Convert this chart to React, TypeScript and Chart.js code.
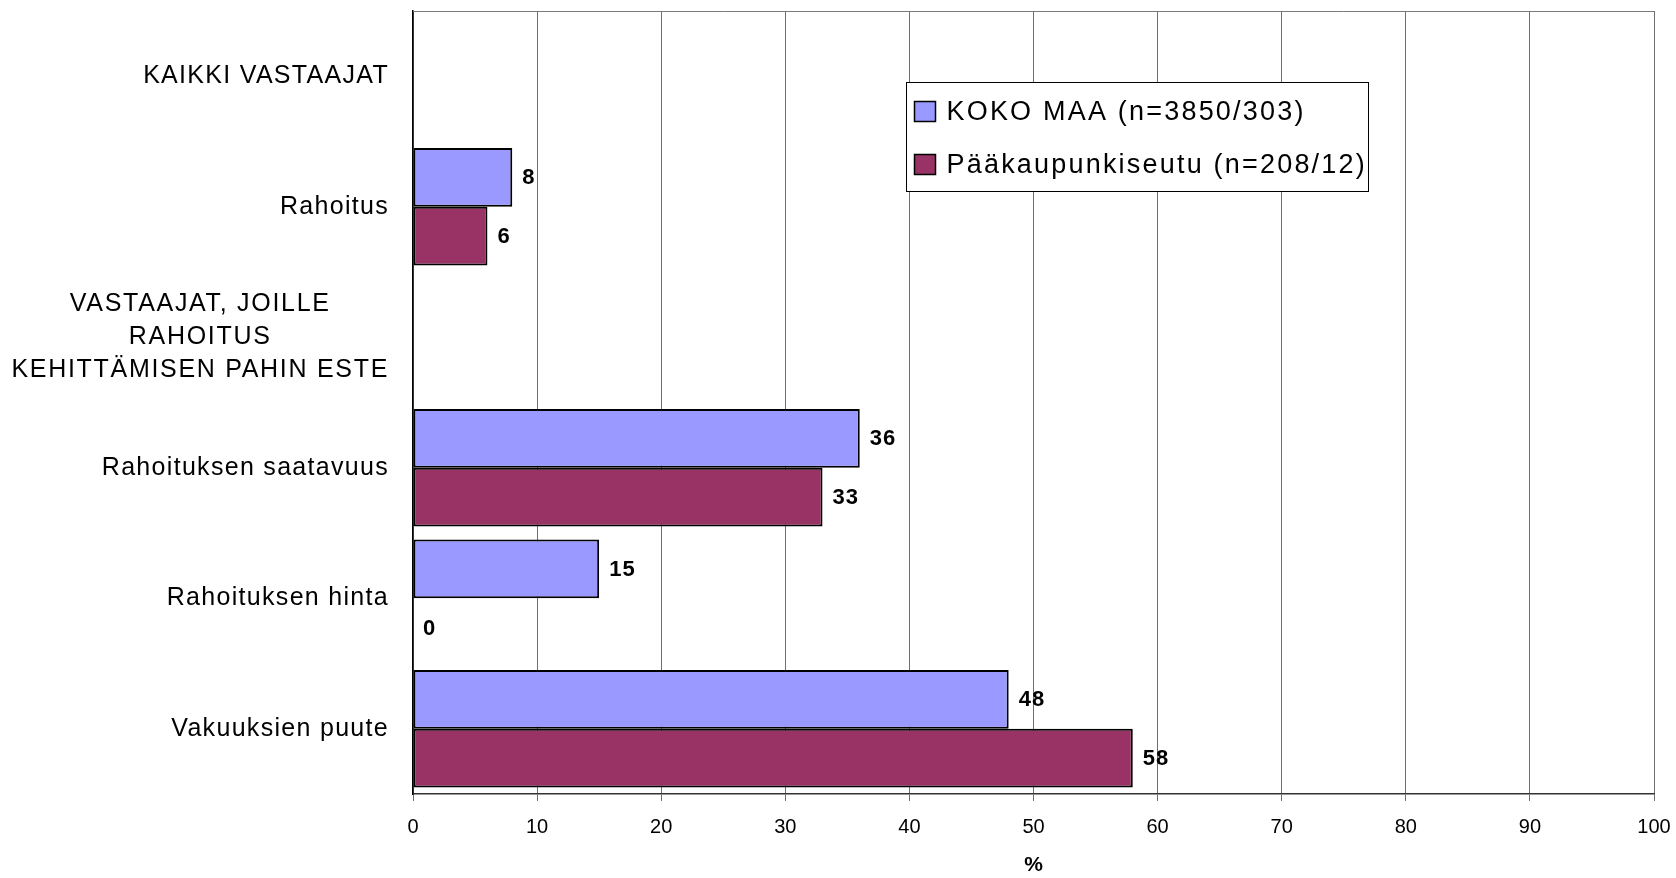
import React, { useEffect, useRef } from "react";
import { Chart, registerables } from "chart.js";

Chart.register(...registerables);

const FONT = '"Liberation Sans", Arial, Helvetica, sans-serif';

const categories: (string | string[])[] = [
  "KAIKKI VASTAAJAT",
  "Rahoitus",
  ["VASTAAJAT, JOILLE", "RAHOITUS", "KEHITTÄMISEN PAHIN ESTE"],
  "Rahoituksen saatavuus",
  "Rahoituksen hinta",
  "Vakuuksien puute",
];
const kokoMaa: (number | null)[] = [null, 8, null, 36, 15, 48];
const paakaupunkiseutu: (number | null)[] = [null, 6, null, 33, 0, 58];
const seriesNames = ["KOKO MAA (n=3850/303)", "Pääkaupunkiseutu (n=208/12)"];
const seriesColors = ["#9999FF", "#993366"];
const xTicks = [0, 10, 20, 30, 40, 50, 60, 70, 80, 90, 100];
const axisTitle = "%";

const customPlugin = {
  id: "customDraw",
  afterDatasetsDraw(chart: any) {
    const ctx = chart.ctx as CanvasRenderingContext2D;
    ctx.save();
    ctx.font = `bold 22px ${FONT}`;
    (ctx as any).letterSpacing = "1px";
    ctx.fillStyle = "#000";
    ctx.textBaseline = "middle";
    ctx.textAlign = "left";
    chart.data.datasets.forEach((ds: any, di: number) => {
      const meta = chart.getDatasetMeta(di);
      meta.data.forEach((el: any, i: number) => {
        const v = ds.data[i];
        if (v === null || v === undefined) return;
        ctx.fillText(String(v), el.x + 10, el.y + 1);
      });
    });
    ctx.restore();
  },
  afterDraw(chart: any) {
    const ctx = chart.ctx as CanvasRenderingContext2D;
    const area = chart.chartArea;
    ctx.save();

    // top frame line
    ctx.strokeStyle = "#7a7a7a";
    ctx.lineWidth = 1;
    ctx.beginPath();
    ctx.moveTo(area.left, Math.round(area.top) + 0.5);
    ctx.lineTo(area.right, Math.round(area.top) + 0.5);
    ctx.stroke();

    // category labels
    const ys = chart.scales.y;
    ctx.fillStyle = "#000";
    ctx.textBaseline = "middle";
    const rightX = area.left - 24;
    categories.forEach((c, i) => {
      const y = ys.getPixelForValue(i);
      if (Array.isArray(c)) {
        ctx.font = `25px ${FONT}`;
        (ctx as any).letterSpacing = "1.7px";
        const maxW = Math.max(...c.map((l) => ctx.measureText(l).width));
        const cx = rightX - maxW / 2;
        ctx.textAlign = "center";
        c.forEach((line, k) => {
          ctx.fillText(line, cx, y + (k - (c.length - 1) / 2) * 33);
        });
      } else {
        ctx.font = `25px ${FONT}`;
        (ctx as any).letterSpacing = "1.3px";
        ctx.textAlign = "right";
        ctx.fillText(c, rightX, y);
      }
    });

    // legend box
    const bx = Math.round(area.left + (area.right - area.left) * 0.3975) + 0.5;
    const by = Math.round(area.top + 71) + 0.5;
    const bw = 462;
    const bh = 109;
    ctx.fillStyle = "#fff";
    ctx.fillRect(bx, by, bw, bh);
    ctx.strokeStyle = "#000";
    ctx.lineWidth = 1;
    ctx.strokeRect(bx, by, bw, bh);
    ctx.font = `27px ${FONT}`;
    (ctx as any).letterSpacing = "2.2px";
    ctx.textAlign = "left";
    ctx.textBaseline = "middle";
    seriesNames.forEach((name, k) => {
      const cy = by + 29 + k * 53;
      ctx.fillStyle = seriesColors[k];
      ctx.fillRect(bx + 8, cy - 10, 21, 20);
      ctx.strokeStyle = "#000";
      ctx.lineWidth = 1.5;
      ctx.strokeRect(bx + 8, cy - 10, 21, 20);
      ctx.fillStyle = "#000";
      ctx.fillText(name, bx + 40, cy + 1);
    });

    ctx.restore();
  },
};

export default function App() {
  const canvasRef = useRef<HTMLCanvasElement | null>(null);

  useEffect(() => {
    if (!canvasRef.current) return;
    const labels = categories.map((c) => (Array.isArray(c) ? c.join(" ") : c));
    const chart = new Chart(canvasRef.current, {
      type: "bar",
      data: {
        labels,
        datasets: [
          {
            label: seriesNames[0],
            data: kokoMaa,
            backgroundColor: seriesColors[0],
            borderColor: "#000",
            borderWidth: 2,
            borderSkipped: false,
            categoryPercentage: 0.9,
            barPercentage: 1,
          },
          {
            label: seriesNames[1],
            data: paakaupunkiseutu,
            backgroundColor: seriesColors[1],
            borderColor: "#000",
            borderWidth: 2,
            borderSkipped: false,
            categoryPercentage: 0.9,
            barPercentage: 1,
          },
        ],
      } as any,
      options: {
        indexAxis: "y",
        responsive: false,
        animation: false,
        devicePixelRatio: 1,
        layout: { padding: { top: 11, right: 22, left: 0, bottom: 0 } },
        plugins: {
          legend: { display: false },
          tooltip: { enabled: false },
          title: { display: false },
        },
        scales: {
          x: {
            type: "linear",
            min: 0,
            max: 100,
            afterFit: (s: any) => {
              s.height = 84;
              s.paddingLeft = 0;
              s.paddingRight = 0;
            },
            afterBuildTicks: (s: any) => {
              s.ticks = xTicks.map((v) => ({ value: v }));
            },
            ticks: {
              font: { size: 20, family: FONT },
              color: "#000",
              padding: 14,
              maxRotation: 0,
              autoSkip: false,
            },
            grid: {
              color: "#6e6e6e",
              lineWidth: 1,
              tickLength: 7,
              drawTicks: true,
            },
            border: { display: true, color: "#333", width: 1.5 },
            title: {
              display: true,
              text: axisTitle,
              font: { size: 21, weight: "bold", family: FONT },
              color: "#000",
              padding: { top: 0, bottom: 0 },
            },
          },
          y: {
            type: "category",
            afterFit: (s: any) => {
              s.width = 413;
            },
            ticks: { display: false },
            grid: { display: false },
            border: { display: true, color: "#000", width: 1.5 },
          },
        },
      } as any,
      plugins: [customPlugin],
    });
    return () => chart.destroy();
  }, []);

  return (
    <div
      style={{
        position: "fixed",
        left: 0,
        top: 0,
        width: 1676,
        height: 878,
        background: "#fff",
      }}
    >
      <canvas ref={canvasRef} width={1676} height={878} style={{ display: "block" }} />
    </div>
  );
}
